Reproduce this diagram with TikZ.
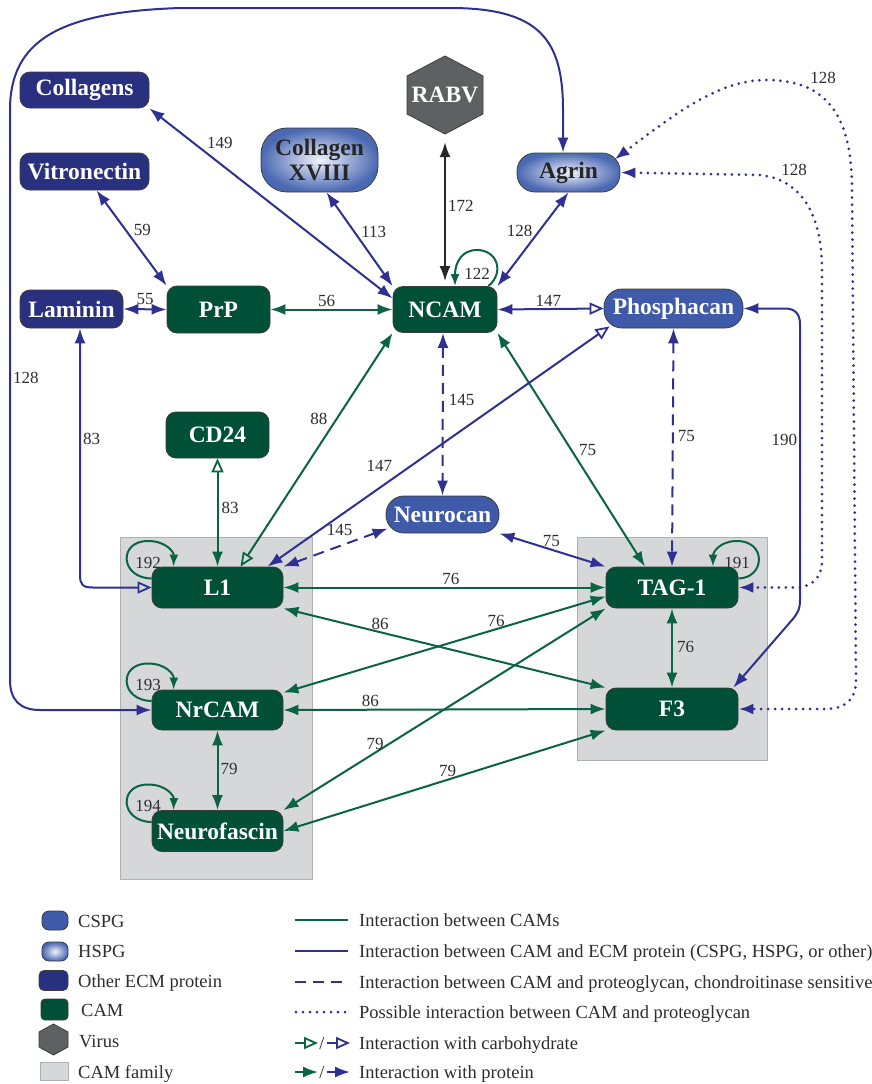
\documentclass[tikz,border=0pt]{standalone}
\usepackage{fontspec}
\setmainfont{Liberation Serif}
\usetikzlibrary{arrows.meta,calc}
\definecolor{cCam}{RGB}{0,80,55}
\definecolor{cGreen}{RGB}{10,100,65}
\definecolor{cBlue}{RGB}{46,49,146}
\definecolor{cEcm}{RGB}{42,48,128}
\definecolor{cCspg}{RGB}{62,90,168}
\definecolor{cHspg}{RGB}{75,105,178}
\definecolor{cHspgIn}{RGB}{240,243,252}
\definecolor{cVirus}{RGB}{95,96,98}
\definecolor{cFam}{RGB}{214,215,217}
\definecolor{cFamBorder}{RGB}{175,176,178}
\definecolor{cText}{RGB}{45,45,45}
\definecolor{cBorder}{RGB}{60,60,60}
\newcommand\myNode{\fontsize{23.5}{25}\selectfont\bfseries}
\newcommand\myNum{\fontsize{17}{18}\selectfont}
\newcommand\myLeg{\fontsize{18.5}{20}\selectfont}
\tikzset{
  box/.style={draw=cBorder, line width=0.8pt, inner sep=0pt, font=\myNode, text=white, align=center},
  camnode/.style={box, fill=cCam, rounded corners=10pt},
  ecmnode/.style={box, fill=cEcm, rounded corners=10pt},
  cspgnode/.style={box, fill=cCspg, rounded corners=18pt},
  hspgnode/.style={box, inner color=cHspgIn, outer color=cHspg, text=black!85, rounded corners=18pt},
  lbl/.style={font=\myNum, text=cText, inner sep=2pt},
  leg/.style={font=\myLeg, text=cText, inner sep=0pt, anchor=base west},
  gl/.style={draw=cGreen, line width=2pt},
  bl/.style={draw=cBlue, line width=2pt},
  kl/.style={draw=black!85, line width=2pt},
  dsh/.style={dash pattern=on 11pt off 7pt},
  dts/.style={line width=3pt, dash pattern=on 0pt off 7pt, line cap=round},
  sT/.tip={Latex[length=15pt,width=11pt]},
  oT/.tip={Triangle[open,length=14pt,width=12pt,line width=1.8pt]},
  lT/.tip={Latex[length=12pt,width=9pt]},
  fam/.style={fill=cFam, draw=cFamBorder, line width=0.8pt},
}
\begin{document}
\begin{tikzpicture}[x=1pt,y=-1pt]
\useasboundingbox[fill=white] (0,0) rectangle (872,1084);
% CAM family backgrounds
\path[fam] (120,537) rectangle (312,879);
\path[fam] (577,537) rectangle (767,760);
% RABV hexagon
\fill[cVirus, draw=cBorder, line width=0.8pt] (445,56) -- (483,76) -- (483,114) -- (445,134) -- (407,114) -- (407,76) -- cycle;
\node[font=\myNode, text=white, minimum width=76pt, minimum height=78pt, inner sep=0pt] (RABV) at (445,95) {RABV};
% nodes
\node[ecmnode, minimum width=129pt, minimum height=36pt] (Collagens) at (84.5,90) {Collagens};
\node[ecmnode, minimum width=129pt, minimum height=37pt] (Vitronectin) at (84.5,171.5) {Vitronectin};
\node[ecmnode, minimum width=103pt, minimum height=38pt] (Laminin) at (71.5,309) {Laminin};
\node[camnode, minimum width=103pt, minimum height=47pt] (PrP) at (218.5,309.5) {PrP};
\node[hspgnode, minimum width=117pt, minimum height=64pt, rounded corners=26pt] (ColXVIII) at (319.5,160) {Collagen\\XVIII};
\node[hspgnode, minimum width=103pt, minimum height=39pt] (Agrin) at (568.5,172.5) {Agrin};
\node[camnode, minimum width=104pt, minimum height=46pt] (NCAM) at (445,309.5) {NCAM};
\node[cspgnode, minimum width=139pt, minimum height=39pt] (Phosphacan) at (673.5,308.5) {Phosphacan};
\node[camnode, minimum width=103pt, minimum height=46pt] (CD24) at (217.5,435) {CD24};
\node[cspgnode, minimum width=113pt, minimum height=37pt] (Neurocan) at (442.5,514.5) {Neurocan};
\node[camnode, minimum width=131pt, minimum height=41pt] (L1) at (217.5,587.5) {L1};
\node[camnode, minimum width=132pt, minimum height=41pt] (TAG1) at (672,587.5) {TAG-1};
\node[camnode, minimum width=131pt, minimum height=40pt] (NrCAM) at (217.5,710) {NrCAM};
\node[camnode, minimum width=132pt, minimum height=42pt] (F3) at (672,709) {F3};
\node[camnode, minimum width=131pt, minimum height=41pt] (Neurofascin) at (217.5,831) {Neurofascin};
% edges
\draw[bl, sT-sT] (Collagens.south east) -- node[lbl, pos=0.225, anchor=south west]{149} ([yshift=11pt]NCAM.west);
\draw[bl, sT-sT] ([xshift=12pt]Vitronectin.south) -- node[lbl, pos=0.42, anchor=west, xshift=5pt]{59} (PrP.north west);
\draw[bl, sT-sT] (Laminin.east) -- node[lbl, pos=0.5, anchor=south, yshift=2pt]{55} (PrP.west);
\draw[gl, sT-sT] (PrP.east) -- node[lbl, pos=0.46, anchor=south]{56} (NCAM.west);
\draw[bl, sT-sT] ([xshift=7pt]ColXVIII.south) -- node[lbl, pos=0.42, anchor=west, xshift=4pt]{113} (NCAM.north west);
\draw[kl, sT-sT] ([yshift=-8pt]RABV.south) -- node[lbl, pos=0.46, anchor=west]{172} ([yshift=5pt]NCAM.north);
\draw[bl, sT-sT] (Agrin.south) -- node[lbl, pos=0.41, anchor=east, xshift=-4pt]{128} (NCAM.north east);
\draw[bl, sT-oT] (NCAM.east) -- node[lbl, pos=0.48, anchor=south]{147} (Phosphacan.west);
\draw[bl, dsh, sT-sT] (Phosphacan.south) -- node[lbl, pos=0.45, anchor=west, xshift=2pt]{75} (TAG1.north);
\draw[bl, dsh, sT-sT] ([xshift=-2pt]NCAM.south) -- node[lbl, pos=0.41, anchor=west, xshift=3pt]{145} (Neurocan.north);
\draw[gl, sT-sT] (NCAM.south east) -- node[lbl, pos=0.5, anchor=west, xshift=5pt]{75} ([xshift=-27pt]TAG1.north);
\draw[bl, sT-oT] ([xshift=50pt]L1.north) -- node[lbl, pos=0.373, anchor=south east, yshift=3pt]{147} ([xshift=-64pt,yshift=2pt]Phosphacan.south);
\draw[gl, oT-sT] ([xshift=23pt]L1.north) -- node[lbl, pos=0.63, anchor=east, xshift=-6pt]{88} (NCAM.south west);
\draw[gl, oT-sT] (CD24.south) -- node[lbl, pos=0.46, anchor=west, xshift=1pt]{83} (L1.north);
\draw[bl, sT-oT] ([xshift=8.5pt]Laminin.south) -- node[lbl, pos=0.45, anchor=west]{83} (80,575) .. controls (80,585) and (83,587.5) .. (93,587.5) -- (L1.west);
\draw[bl, dsh, sT-sT] (L1.north east) -- node[lbl, pos=0.69, anchor=south east, yshift=2pt]{145} ([xshift=2pt,yshift=-14pt]Neurocan.west);
\draw[bl, sT-sT] (Neurocan.south east) -- node[lbl, pos=0.49, anchor=south]{75} (TAG1.north west);
\draw[gl, sT-sT] (L1.east) -- node[lbl, pos=0.52, anchor=south]{76} (TAG1.west);
\draw[gl, sT-sT] (L1.south east) -- node[lbl, pos=0.30, anchor=south]{86} (F3.north west);
\draw[gl, sT-sT] ([yshift=-3pt]NrCAM.north east) -- node[lbl, pos=0.66, anchor=south]{76} ([yshift=-9pt]TAG1.west);
\draw[gl, sT-sT] (NrCAM.east) -- node[lbl, pos=0.27, anchor=south]{86} (F3.west);
\draw[gl, sT-sT] (Neurofascin.north east) -- node[lbl, pos=0.285, anchor=south]{79} (TAG1.south west);
\draw[gl, sT-sT] (Neurofascin.east) -- node[lbl, pos=0.51, anchor=south]{79} (F3.south west);
\draw[gl, sT-sT] (NrCAM.south) -- node[lbl, pos=0.48, anchor=west]{79} (Neurofascin.north);
\draw[gl, sT-sT] (TAG1.south) -- node[lbl, pos=0.49, anchor=west, xshift=2pt]{76} (F3.north);
% big outer curve NrCAM - Agrin
\draw[bl, sT-sT] (NrCAM.west) -- (40,710) .. controls (20,710) and (10,700) .. (10,680) -- node[lbl, pos=0.53, anchor=west]{128} (10,110) .. controls (10,40) and (60,12) .. (180,8) -- (450,8) .. controls (540,8) and (563,40) .. (563,110) -- ([xshift=-5.5pt]Agrin.north);
% dotted Agrin - TAG-1
\draw[bl, dts, sT-sT] (Agrin.east) -- (760,175) .. controls (790,178) and (822,200) .. node[lbl, pos=0.2, anchor=south west]{128} (822,270) -- (822,560) .. controls (822,578) and (812,587.5) .. (795,587.5) -- (TAG1.east);
% dotted Agrin - F3
\draw[bl, dts, sT-sT] ([xshift=46pt,yshift=13pt]Agrin.center) .. controls (680,110) and (720,80) .. (767,80) .. controls (830,80) and (852,120) .. node[lbl, pos=0.25, anchor=south west]{128} (852,190) -- (856,680) .. controls (856,700) and (845,709) .. (825,709) -- (F3.east);
% Phosphacan - F3
\draw[bl, sT-sT] (Phosphacan.east) -- (785,308.5) .. controls (795,308.5) and (800,314) .. (800,324) -- node[lbl, pos=0.42, anchor=east]{190} (800,600) .. controls (800,610) and (797,614) .. (792,620) -- ([xshift=-5pt]F3.north east);
% self loops
\draw[gl, -lT] ([yshift=9pt]L1.west) .. controls (120,578) and (118,541) .. (148,541) node[lbl, below=13pt]{192} .. controls (166,541) and (174,552) .. ([xshift=-44pt]L1.north);
\draw[gl, -lT] ([yshift=9pt]NrCAM.west) .. controls (120,700.5) and (118,663.5) .. (148,663.5) node[lbl, below=13pt]{193} .. controls (166,663.5) and (174,674.5) .. ([xshift=-44pt]NrCAM.north);
\draw[gl, -lT] ([yshift=9pt]Neurofascin.west) .. controls (120,821.5) and (118,784.5) .. (148,784.5) node[lbl, below=13pt]{194} .. controls (166,784.5) and (174,795.5) .. ([xshift=-44pt]Neurofascin.north);
\draw[gl, -lT] ([yshift=9pt]TAG1.east) .. controls (765,578) and (767,541) .. (737,541) node[lbl, below=13pt]{191} .. controls (720,541) and (713,552) .. ([xshift=41pt]TAG1.north);
\draw[gl, -lT] ([xshift=-9pt]NCAM.north east) .. controls (505,272) and (497,250) .. (477,250) node[lbl, below=15pt]{122} .. controls (462,250) and (455,262) .. ([xshift=10pt]NCAM.north);
% legend symbols
\node[box, fill=cCspg, rounded corners=7pt, minimum width=26pt, minimum height=19pt] (lgCspg) at (55,920.5) {};
\node[box, inner color=cHspgIn, outer color=cHspg, rounded corners=7pt, minimum width=26pt, minimum height=19pt] (lgHspg) at (55,951.5) {};
\node[box, fill=cEcm, rounded corners=5pt, minimum width=29pt, minimum height=20pt] (lgEcm) at (53.5,980.5) {};
\node[box, fill=cCam, rounded corners=4pt, minimum width=27pt, minimum height=21pt] (lgCam) at (54.5,1009.5) {};
\fill[cVirus, draw=cBorder, line width=0.8pt] (53.5,1024) -- (68,1032) -- (68,1047) -- (53.5,1055) -- (39,1047) -- (39,1032) -- cycle;
\node[fam, minimum width=28pt, minimum height=18pt, inner sep=0pt] (lgFam) at (54,1071.5) {};
\node[leg] (tCspg) at (78,927) {CSPG};
\node[leg] (tHspg) at (78,957) {HSPG};
\node[leg] (tEcm) at (78,987.5) {Other ECM protein};
\node[leg] (tCam) at (81,1016.5) {CAM};
\node[leg] (tVirus) at (79,1047.5) {Virus};
\node[leg] (tFam) at (78,1078) {CAM family};
% legend lines
\draw[gl] (295,920) -- (348,920);
\draw[bl] (295,951) -- (348,951);
\draw[bl, dsh] (295,982) -- (348,982);
\draw[bl, dts] (296,1012) -- (348,1012);
\draw[gl, -oT] (295,1043) -- (318,1043);
\node[font=\myLeg, text=cText, inner sep=0pt] (slash1) at (322,1043) {/};
\draw[bl, -oT] (327,1043) -- (350,1043);
\draw[gl, -sT] (295,1072) -- (318,1072);
\node[font=\myLeg, text=cText, inner sep=0pt] (slash2) at (322,1072) {/};
\draw[bl, -sT] (327,1072) -- (350,1072);
\node[leg] (t1) at (359,926) {Interaction between CAMs};
\node[leg] (t2) at (359,957) {Interaction between CAM and ECM protein (CSPG, HSPG, or other)};
\node[leg] (t3) at (359,988) {Interaction between CAM and proteoglycan, chondroitinase sensitive};
\node[leg] (t4) at (359,1018) {Possible interaction between CAM and proteoglycan};
\node[leg] (t5) at (359,1049) {Interaction with carbohydrate};
\node[leg] (t6) at (359,1078) {Interaction with protein};
\end{tikzpicture}
\end{document}
